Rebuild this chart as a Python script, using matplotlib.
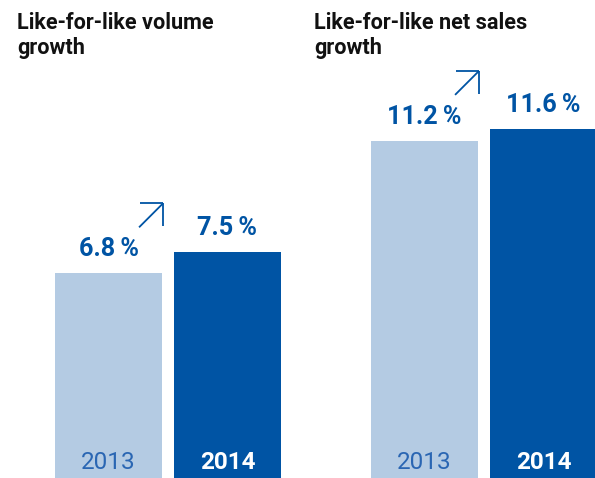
import matplotlib
matplotlib.use("Agg")
import matplotlib.pyplot as plt
from matplotlib.lines import Line2D
from matplotlib.transforms import IdentityTransform

plt.rcParams['font.family'] = ['Roboto', 'DejaVu Sans']

years = ["2013", "2014"]
titles = [["Like-for-like volume", "growth"], ["Like-for-like net sales", "growth"]]
volume_growth = [6.8, 7.5]
net_sales_growth = [11.2, 11.6]
panels = [volume_growth, net_sales_growth]

LIGHT = "#b4cbe3"
DARK = "#0054a4"
YEAR_LIGHT_TXT = "#2a66b3"

W, H = 595, 478
fig = plt.figure(figsize=(W / 100, H / 100), dpi=100)

panel_left_px = [55, 371]
title_left_px = [17, 314]
title_baselines_px = [29, 54]
panel_width_px = 226
px_per_unit = 30.1
ymax = H / px_per_unit

for i, vals in enumerate(panels):
    ax = fig.add_axes([panel_left_px[i] / W, 0, panel_width_px / W, 1])
    ax.set_xlim(-0.45, 1.45)
    ax.set_ylim(0, ymax)
    ax.axis("off")
    ax.bar([0, 1], vals, width=0.9, color=[LIGHT, DARK], linewidth=0)

    for j, v in enumerate(vals):
        ax.annotate(f"{v:.1f}\u2009%", xy=(j, v), xytext=(0, 12.3),
                    textcoords="offset points", ha="center", va="baseline",
                    fontsize=18.2, fontweight="bold", color=DARK)
        ax.annotate(years[j], xy=(j, 0), xytext=(0, 6.5),
                    textcoords="offset points", ha="center", va="baseline",
                    fontsize=17.5,
                    fontweight="normal" if j == 0 else "bold",
                    color=YEAR_LIGHT_TXT if j == 0 else "white")

    # upward arrow at the top-right corner of the 2013 bar
    fig.canvas.draw()
    cx, cy = ax.transData.transform((0.45, vals[0]))
    cx += 1
    cy += 70
    size = 24
    for xs, ys in [([cx - size, cx], [cy - size, cy]),
                   ([cx - size + 1, cx], [cy, cy]),
                   ([cx, cx], [cy, cy - size + 1])]:
        fig.add_artist(Line2D(xs, ys, transform=IdentityTransform(),
                              color=DARK, linewidth=1.3,
                              solid_capstyle="butt"))

    for line, base in zip(titles[i], title_baselines_px):
        fig.text(title_left_px[i] / W, 1 - base / H, line, ha="left",
                 va="baseline", fontsize=15.6, fontweight="bold",
                 color="#111111")

fig.savefig("out.png", dpi=100)
